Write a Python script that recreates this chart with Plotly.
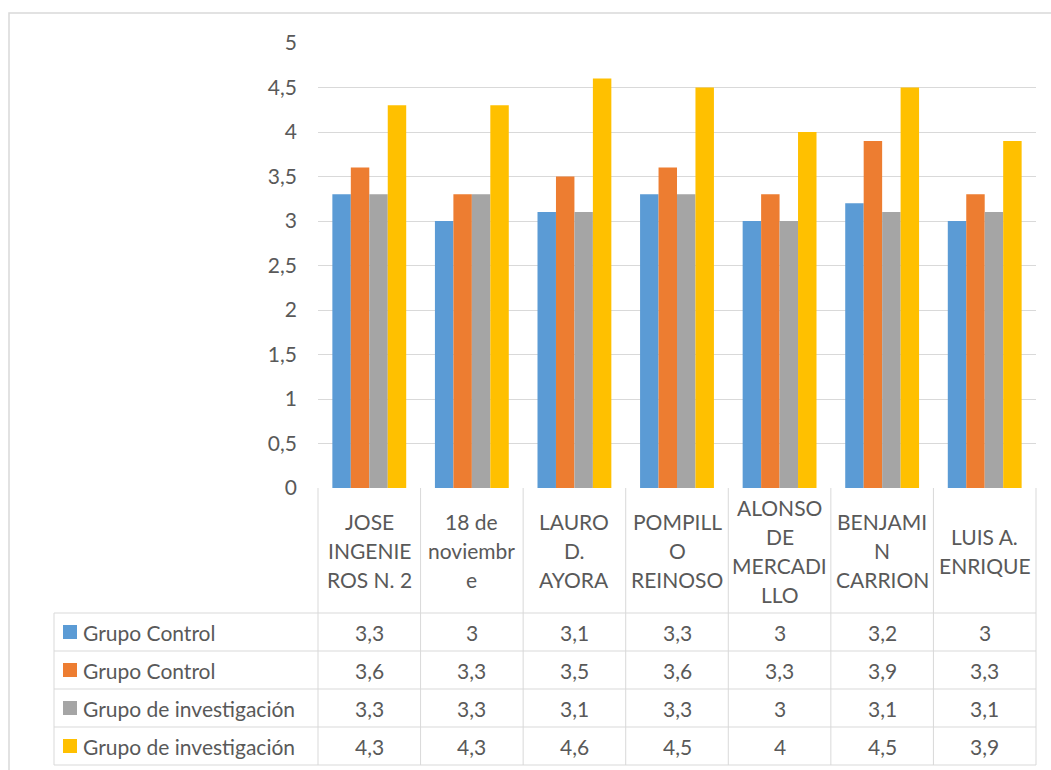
import plotly.graph_objects as go

# ---------------- data ----------------
categories = ["JOSE INGENIEROS N. 2", "18 de noviembre", "LAURO D. AYORA",
              "POMPILLO REINOSO", "ALONSO DE MERCADILLO", "BENJAMIN CARRION",
              "LUIS A. ENRIQUE"]
category_lines = [["JOSE", "INGENIE", "ROS N. 2"],
                  ["18 de", "noviembr", "e"],
                  ["LAURO", "D.", "AYORA"],
                  ["POMPILL", "O", "REINOSO"],
                  ["ALONSO", "DE", "MERCADI", "LLO"],
                  ["BENJAMI", "N", "CARRION"],
                  ["LUIS A.", "ENRIQUE"]]
series_names = ["Grupo Control", "Grupo Control",
                "Grupo de investigación", "Grupo de investigación"]
control_1 = [3.3, 3.0, 3.1, 3.3, 3.0, 3.2, 3.0]
control_2 = [3.6, 3.3, 3.5, 3.6, 3.3, 3.9, 3.3]
investigacion_1 = [3.3, 3.3, 3.1, 3.3, 3.0, 3.1, 3.1]
investigacion_2 = [4.3, 4.3, 4.6, 4.5, 4.0, 4.5, 3.9]
series_values = [control_1, control_2, investigacion_1, investigacion_2]
y_ticks = [0, 0.5, 1, 1.5, 2, 2.5, 3, 3.5, 4, 4.5, 5]

colors = ["#5B9BD5", "#ED7D31", "#A5A5A5", "#FFC000"]
FONT = "Lato"
FS = 21
TXT = "#595959"
GRID = "#D9D9D9"

W, H = 1051, 770
PX0, PX1 = 318, 1036      # plot area x pixels
PY_TOP, PY_BOT = 43, 488  # y=5 / y=0 pixels
ROW_TOP = 613
ROW_H = 38
TABLE_LEFT = 54


def px(x):
    return x / W


def py(y):
    return 1 - y / H


def fmt(v):
    s = ("%g" % v)
    return s.replace(".", ",")


fig = go.Figure()
idx = list(range(len(categories)))
for name, vals, c in zip(series_names, series_values, colors):
    fig.add_trace(go.Bar(x=idx, y=vals, name=name, marker_color=c,
                         marker_line_width=0, showlegend=False,
                         hovertext=[categories[i] for i in idx]))

n = len(categories)
shapes = []
annotations = []
line = dict(color=GRID, width=1)

# outer chart border
shapes.append(dict(type="rect", xref="paper", yref="paper",
                   x0=px(9), x1=px(1056), y0=py(780), y1=py(13),
                   line=dict(color="#D9D9D9", width=1.5)))

# category cell verticals + table verticals
cw = (PX1 - PX0) / n
for i in range(n + 1):
    x = PX0 + i * cw
    shapes.append(dict(type="line", xref="paper", yref="paper",
                       x0=px(x), x1=px(x), y0=py(PY_BOT), y1=py(ROW_TOP + 4 * ROW_H),
                       line=line))
# table left vertical
shapes.append(dict(type="line", xref="paper", yref="paper",
                   x0=px(TABLE_LEFT), x1=px(TABLE_LEFT), y0=py(ROW_TOP),
                   y1=py(ROW_TOP + 4 * ROW_H), line=line))
# table horizontals
for r in range(5):
    y = ROW_TOP + r * ROW_H
    shapes.append(dict(type="line", xref="paper", yref="paper",
                       x0=px(TABLE_LEFT), x1=px(PX1), y0=py(y), y1=py(y),
                       line=line))

# category labels (one annotation per wrapped line)
LINE_SP = 29
cell_mid = (PY_BOT + ROW_TOP) / 2
for i, lines in enumerate(category_lines):
    k = len(lines)
    for j, t in enumerate(lines):
        yc = cell_mid + (j - (k - 1) / 2) * LINE_SP
        annotations.append(dict(x=i, xref="x", y=py(yc), yref="paper",
                                text=t, showarrow=False, xanchor="center",
                                yanchor="middle",
                                font=dict(family=FONT, size=FS, color=TXT)))

# table rows: legend keys, names, values
for r, (name, vals, c) in enumerate(zip(series_names, series_values, colors)):
    yc = ROW_TOP + r * ROW_H + ROW_H / 2
    shapes.append(dict(type="rect", xref="paper", yref="paper",
                       x0=px(63), x1=px(77), y0=py(yc + 7), y1=py(yc - 7),
                       fillcolor=c, line=dict(width=0)))
    annotations.append(dict(x=px(81), xref="paper", y=py(yc), yref="paper",
                            text=name, showarrow=False, xanchor="left",
                            yanchor="middle",
                            font=dict(family=FONT, size=FS, color=TXT)))
    for i, v in enumerate(vals):
        annotations.append(dict(x=i, xref="x", y=py(yc), yref="paper",
                                text=fmt(v), showarrow=False, xanchor="center",
                                yanchor="middle",
                                font=dict(family=FONT, size=FS, color=TXT)))

fig.update_layout(
    template="none",
    width=W, height=H,
    margin=dict(l=0, r=0, t=0, b=0, pad=0, autoexpand=False),
    paper_bgcolor="white", plot_bgcolor="white",
    barmode="group", bargap=0.28, bargroupgap=0,
    separators=", ",
    shapes=shapes, annotations=annotations,
    xaxis=dict(domain=[px(PX0), px(PX1)], range=[-0.5, n - 0.5],
               showticklabels=False, showgrid=False, zeroline=False,
               showline=False, fixedrange=True, automargin=False, ticks=""),
    yaxis=dict(domain=[py(PY_BOT), py(PY_TOP)], range=[0, 5],
               tickvals=y_ticks, ticktext=[fmt(v) for v in y_ticks],
               showgrid=True, gridcolor=GRID, gridwidth=1,
               zeroline=False, showline=False, ticks="", automargin=False,
               ticklabelstandoff=20,
               tickfont=dict(family=FONT, size=FS, color=TXT)),
)

fig.write_html("out.html",
               config={"displayModeBar": False},
               post_script="document.body.style.margin='0';"
                           "document.body.style.padding='0';")
